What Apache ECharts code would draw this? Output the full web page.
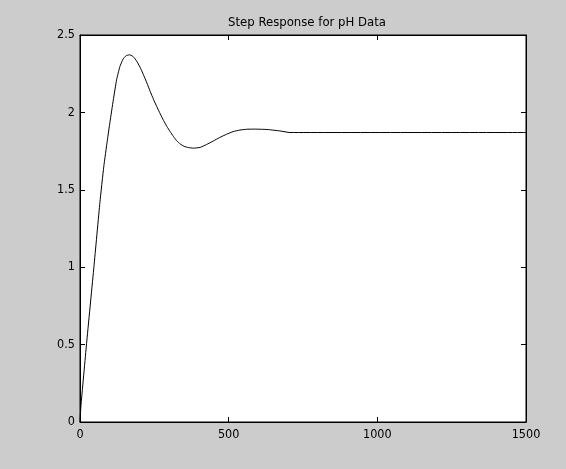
<!DOCTYPE html>
<html>
<head>
<meta charset="utf-8">
<script src="https://cdn.jsdelivr.net/npm/echarts@6/dist/echarts.min.js"></script>
<style>
html,body{margin:0;padding:0;background:#cccccc;}
#c{width:566px;height:469px;}
</style>
</head>
<body>
<div id="c"></div>
<script>
var title = 'Step Response for pH Data';
var timeValues = [0, 3, 22, 47, 67, 80, 92, 101, 112, 123, 134, 145, 155, 166, 178, 190, 202, 213, 225, 236, 247, 258, 270, 281, 292, 303, 314, 325, 337, 350, 364, 381, 404, 425, 448, 470, 493, 515, 538, 560, 585, 610, 633, 673, 706, 1500];
var responseValues = [0, 0.10, 0.505, 1.006, 1.42, 1.65, 1.82, 1.94, 2.08, 2.21, 2.295, 2.345, 2.366, 2.372, 2.362, 2.333, 2.292, 2.245, 2.19, 2.136, 2.085, 2.038, 1.99, 1.948, 1.91, 1.876, 1.845, 1.817, 1.796, 1.781, 1.773, 1.769, 1.774, 1.792, 1.815, 1.838, 1.859, 1.876, 1.886, 1.891, 1.892, 1.891, 1.889, 1.880, 1.870, 1.870];
var xTicks = [0, 500, 1000, 1500];
var yTicks = [0, 0.5, 1, 1.5, 2, 2.5];

var seriesData = timeValues.map(function (t, i) { return [t, responseValues[i]]; });
var font = '"Liberation Sans Narrow", "Arial Narrow", "DejaVu Sans Condensed", sans-serif';
var chart = echarts.init(document.getElementById('c'), null, {renderer: 'canvas'});
var tickStyle = {show: true, inside: true, length: 5, lineStyle: {color: '#000', width: 1}};
function plain(v) { return String(v); }
chart.setOption({
  animation: false,
  backgroundColor: '#cccccc',
  title: {
    text: title, left: 302, top: 11, textAlign: 'center',
    textStyle: {fontFamily: font, fontSize: 13, fontWeight: 'normal', color: '#000'}
  },
  grid: {left: 80, right: 40, top: 35, bottom: 47, show: true, backgroundColor: '#ffffff', borderColor: '#000', borderWidth: 1},
  xAxis: [{
    type: 'value', min: xTicks[0], max: xTicks[xTicks.length - 1], interval: 500,
    axisLine: {show: true, onZero: false, lineStyle: {color: '#000', width: 1}},
    axisTick: tickStyle,
    axisLabel: {fontFamily: font, fontSize: 12.5, color: '#000', margin: 6, formatter: plain},
    splitLine: {show: false}
  }, {
    type: 'value', position: 'top', min: xTicks[0], max: xTicks[xTicks.length - 1], interval: 500,
    axisLine: {show: true, onZero: false, lineStyle: {color: '#000', width: 1}},
    axisTick: tickStyle, axisLabel: {show: false}, splitLine: {show: false}
  }],
  yAxis: [{
    type: 'value', min: yTicks[0], max: yTicks[yTicks.length - 1], interval: 0.5,
    axisLine: {show: true, onZero: false, lineStyle: {color: '#000', width: 1}},
    axisTick: tickStyle,
    axisLabel: {fontFamily: font, fontSize: 12.5, color: '#000', margin: 5, formatter: plain},
    splitLine: {show: false}
  }, {
    type: 'value', position: 'right', min: yTicks[0], max: yTicks[yTicks.length - 1], interval: 0.5,
    axisLine: {show: true, onZero: false, lineStyle: {color: '#000', width: 1}},
    axisTick: tickStyle, axisLabel: {show: false}, splitLine: {show: false}
  }],
  series: [{
    type: 'line', data: seriesData, showSymbol: false, symbol: 'none', smooth: 0.15,
    xAxisIndex: 0, yAxisIndex: 0,
    lineStyle: {color: '#000', width: 1}
  }]
});
</script>
</body>
</html>
